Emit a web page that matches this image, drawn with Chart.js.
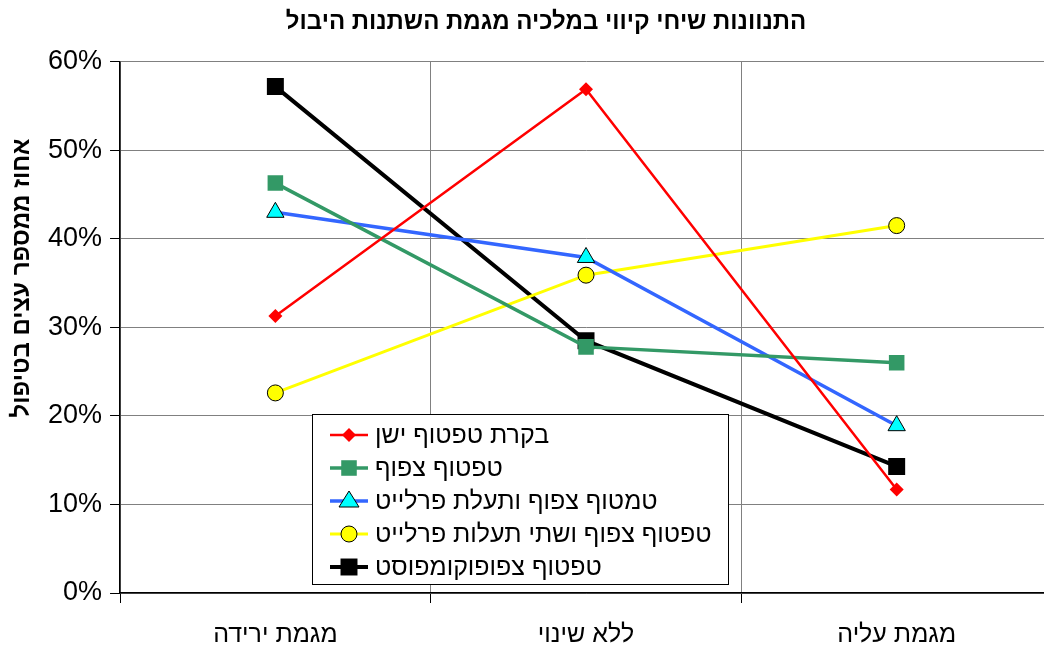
<!DOCTYPE html>
<html>
<head>
<meta charset="utf-8">
<script src="https://cdn.jsdelivr.net/npm/chart.js@4"></script>
<style>
  html, body { margin: 0; padding: 0; overflow: hidden; background: #fff; }
  #wrap { position: absolute; left: 0; top: 0; width: 1088px; height: 667px; }
</style>
</head>
<body>
<div id="wrap"><canvas id="myChart" width="1088" height="667"></canvas></div>
<script>
const categories = ['מגמת ירידה', 'ללא שינוי', 'מגמת עליה']
const yTicks = [0, 10, 20, 30, 40, 50, 60]

const bakaratTaftufYashan = [31.3, 56.9, 11.7]
const taftufTzafuf = [46.3, 27.8, 26.0]
const taftufTzafufTealatPerlite = [43.0, 37.9, 18.9]
const taftufTzafufShteiTealot = [22.6, 35.9, 41.5]
const taftufTzafufKompost = [57.2, 28.5, 14.3]

const seriesNames = [
  'בקרת טפטוף ישן',
  'טפטוף צפוף',
  'טמטוף צפוף ותעלת פרלייט',
  'טפטוף צפוף ושתי תעלות פרלייט',
  'טפטוף צפופוקומפוסט'
]

const FONT = '"Liberation Sans", Arial, "DejaVu Sans", sans-serif'

const makeDataset = (label, data, color, fill, style, radius, width) => ({
  label,
  data,
  borderColor: color,
  backgroundColor: fill,
  pointBackgroundColor: fill,
  pointBorderColor: style === 'triangle' || style === 'circle' ? '#000' : fill,
  pointBorderWidth: style === 'triangle' || style === 'circle' ? 1 : 0,
  pointStyle: style,
  pointRadius: radius,
  pointHoverRadius: radius,
  borderWidth: width,
  tension: 0
})

const datasets = [
  makeDataset(seriesNames[0], bakaratTaftufYashan, '#ff0000', '#ff0000', 'rectRot', 7, 2.5),
  makeDataset(seriesNames[1], taftufTzafuf, '#339966', '#339966', 'rect', 11, 3.5),
  makeDataset(seriesNames[2], taftufTzafufTealatPerlite, '#3366ff', '#00ffff', 'triangle', 10, 3.5),
  makeDataset(seriesNames[3], taftufTzafufShteiTealot, '#ffff00', '#ffff00', 'circle', 8, 3),
  makeDataset(seriesNames[4], taftufTzafufKompost, '#000000', '#000000', 'rect', 12, 4)
]

const drawMarker = (ctx, ds, x, y) => {
  ctx.save()
  ctx.fillStyle = ds.pointBackgroundColor
  ctx.strokeStyle = ds.pointBorderColor
  ctx.lineWidth = ds.pointBorderWidth
  const r = ds.pointRadius
  ctx.beginPath()
  if (ds.pointStyle === 'rect') {
    const s = r * Math.SQRT1_2
    ctx.rect(x - s, y - s, 2 * s, 2 * s)
  } else if (ds.pointStyle === 'rectRot') {
    ctx.moveTo(x, y - r); ctx.lineTo(x + r, y); ctx.lineTo(x, y + r); ctx.lineTo(x - r, y)
    ctx.closePath()
  } else if (ds.pointStyle === 'triangle') {
    ctx.moveTo(x, y - r); ctx.lineTo(x + r, y + r * 0.6); ctx.lineTo(x - r, y + r * 0.6)
    ctx.closePath()
  } else {
    ctx.arc(x, y, r, 0, Math.PI * 2)
  }
  ctx.fill()
  if (ds.pointBorderWidth) ctx.stroke()
  ctx.restore()
}

// legend drawn inside the plot, like the original
const boxLegend = {
  id: 'boxLegend',
  afterDatasetsDraw(chart) {
    const ctx = chart.ctx
    const x0 = 312, y0 = 414, w = 416, h = 170
    ctx.save()
    ctx.fillStyle = '#fff'
    ctx.fillRect(x0, y0, w, h)
    ctx.strokeStyle = '#000'
    ctx.lineWidth = 1
    ctx.strokeRect(x0 + 0.5, y0 + 0.5, w, h)
    chart.data.datasets.forEach((ds, i) => {
      const y = y0 + 21 + i * 33
      ctx.strokeStyle = ds.borderColor
      ctx.lineWidth = ds.borderWidth
      ctx.beginPath()
      ctx.moveTo(x0 + 18, y)
      ctx.lineTo(x0 + 56, y)
      ctx.stroke()
      drawMarker(ctx, ds, x0 + 37, y)
      ctx.fillStyle = '#000'
      ctx.font = '25px ' + FONT
      ctx.textAlign = 'left'
      ctx.textBaseline = 'middle'
      ctx.fillText(ds.label, x0 + 63, y + 1)
    })
    ctx.restore()
  }
}

const yAxisTitle = {
  id: 'yAxisTitle',
  afterDraw(chart) {
    const ctx = chart.ctx
    ctx.save()
    ctx.translate(22, 278)
    ctx.rotate(-Math.PI / 2)
    ctx.font = 'bold 24px ' + FONT
    ctx.fillStyle = '#000'
    ctx.textAlign = 'center'
    ctx.textBaseline = 'middle'
    ctx.fillText('אחוז ממספר עצים בטיפול', 0, 0)
    ctx.restore()
  }
}

new Chart(document.getElementById('myChart'), {
  type: 'line',
  data: { labels: categories, datasets },
  options: {
    responsive: false,
    animation: false,
    layout: { padding: { left: 40, right: 36, top: 0, bottom: 0 } },
    plugins: {
      legend: { display: false },
      tooltip: { enabled: false },
      title: {
        display: true,
        text: 'התנוונות שיחי קיווי במלכיה מגמת השתנות היבול',
        font: { family: FONT, size: 24, weight: 'bold' },
        color: '#000',
        padding: { top: 8, bottom: 25 }
      }
    },
    scales: {
      x: {
        offset: true,
        grid: { offset: true, color: '#808080', lineWidth: 1, tickColor: '#000', tickLength: 10 },
        border: { color: '#000', width: 1.5 },
        ticks: { font: { family: FONT, size: 25 }, color: '#000', padding: 17 }
      },
      y: {
        min: 0,
        max: 60,
        afterBuildTicks: (axis) => { axis.ticks = yTicks.map(v => ({ value: v })) },
        grid: { color: '#808080', lineWidth: 1, tickColor: '#000', tickLength: 10 },
        border: { color: '#000', width: 1.5 },
        ticks: { font: { family: FONT, size: 27 }, color: '#000', padding: 8, callback: (v) => v + '%' }
      }
    }
  },
  plugins: [boxLegend, yAxisTitle]
})
</script>
</body>
</html>
